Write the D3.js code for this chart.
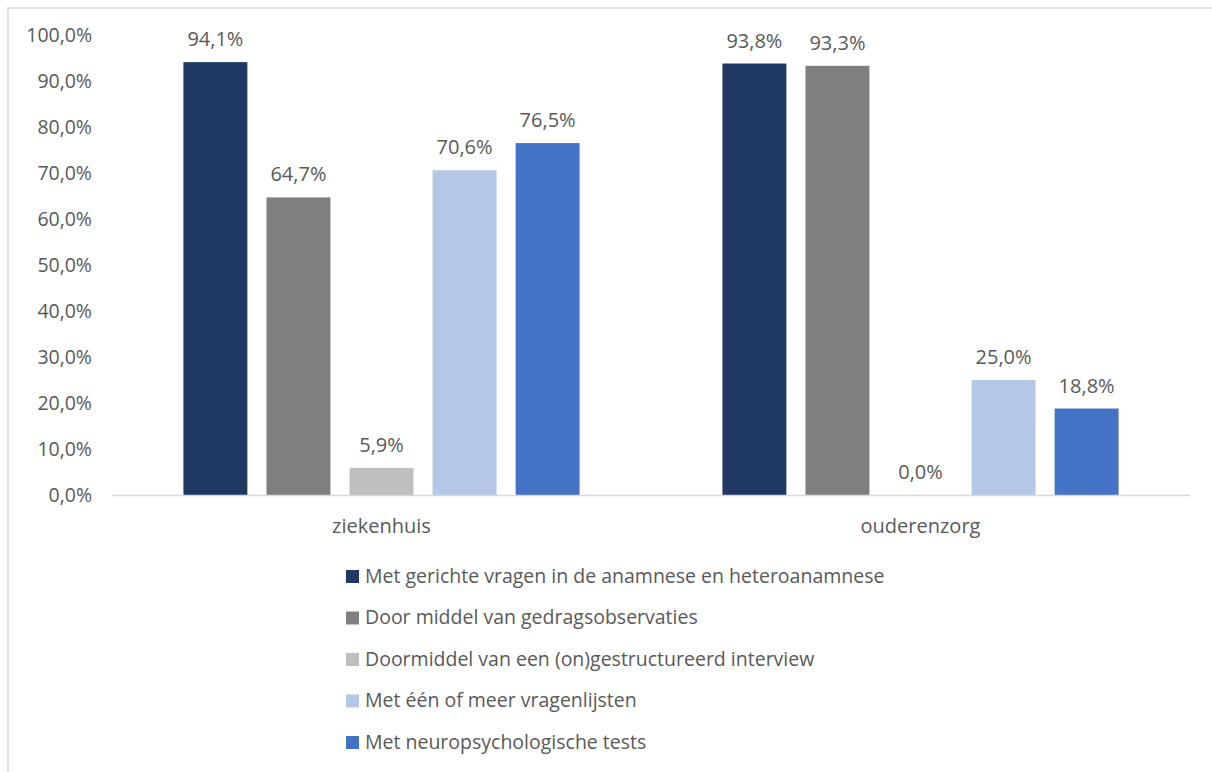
<!DOCTYPE html>
<html lang="nl">
<head>
    <meta charset="UTF-8">
    <title>Methoden per setting</title>
    <style>
        body, html {
            margin: 0;
            padding: 0;
            background: #ffffff;
            overflow: hidden;
        }
        svg {
            font-family: "Open Sans", Lato, sans-serif;
        }
        .tick-label, .cat-label, .value-label, .legend-label {
            fill: #595959;
        }
    </style>
</head>
<body>
    <div id="chart"></div>

    <script src="https://d3js.org/d3.v7.min.js"></script>
    <script>
        // data
        const categories = ['ziekenhuis', 'ouderenzorg'];
        const seriesNames = [
            'Met gerichte vragen in de anamnese en heteroanamnese',
            'Door middel van gedragsobservaties',
            'Doormiddel van een (on)gestructureerd interview',
            'Met één of meer vragenlijsten',
            'Met neuropsychologische tests'
        ];
        const ziekenhuisValues = [94.1, 64.7, 5.9, 70.6, 76.5];
        const ouderenzorgValues = [93.8, 93.3, 0.0, 25.0, 18.8];
        const yTicks = [0, 10, 20, 30, 40, 50, 60, 70, 80, 90, 100];
        const seriesColors = ['#1f3864', '#7f7f7f', '#bfbfbf', '#b4c7e7', '#4472c4'];

        const valuesByCategory = { ziekenhuis: ziekenhuisValues, ouderenzorg: ouderenzorgValues };

        const width = 1212, height = 772;
        const plot = { left: 112, right: 1190, top: 35, bottom: 495 };

        const svg = d3.select('#chart').append('svg')
            .attr('width', width)
            .attr('height', height);

        // outer frame of the chart area (only top and left edges visible)
        svg.append('rect')
            .attr('x', 8).attr('y', 8)
            .attr('width', width + 20).attr('height', height + 20)
            .attr('fill', 'none')
            .attr('stroke', '#d9d9d9')
            .attr('stroke-width', 1.5);

        const x0 = d3.scaleBand()
            .domain(categories)
            .range([plot.left, plot.right])
            .padding(0);

        const x1 = d3.scaleBand()
            .domain(d3.range(seriesNames.length))
            .range([0, x0.bandwidth()])
            .paddingInner(0.23)
            .paddingOuter(0.86);

        const y = d3.scaleLinear()
            .domain([0, 100])
            .range([plot.bottom, plot.top]);

        const fmt = v => v.toFixed(1).replace('.', ',') + '%';

        // y tick labels
        svg.append('g')
            .selectAll('text')
            .data(yTicks)
            .enter().append('text')
            .attr('class', 'tick-label')
            .attr('x', 92)
            .attr('y', d => y(d))
            .attr('dy', '0.35em')
            .attr('text-anchor', 'end')
            .style('font-size', '19.5px')
            .text(d => fmt(d));

        // bars
        const groups = svg.append('g')
            .selectAll('g')
            .data(categories)
            .enter().append('g')
            .attr('transform', d => `translate(${x0(d)},0)`);

        groups.selectAll('rect')
            .data(c => valuesByCategory[c].map((v, i) => ({ v, i })))
            .enter().append('rect')
            .attr('x', d => x1(d.i))
            .attr('width', x1.bandwidth())
            .attr('y', d => y(d.v))
            .attr('height', d => y(0) - y(d.v))
            .attr('fill', d => seriesColors[d.i]);

        groups.selectAll('text')
            .data(c => valuesByCategory[c].map((v, i) => ({ v, i })))
            .enter().append('text')
            .attr('class', 'value-label')
            .attr('x', d => x1(d.i) + x1.bandwidth() / 2)
            .attr('y', d => y(d.v) - 16)
            .attr('text-anchor', 'middle')
            .style('font-size', '20px')
            .text(d => fmt(d.v));

        // x axis line
        svg.append('line')
            .attr('x1', plot.left).attr('x2', plot.right)
            .attr('y1', y(0) + 0.5).attr('y2', y(0) + 0.5)
            .attr('stroke', '#d9d9d9')
            .attr('stroke-width', 1.5);

        // category labels
        svg.append('g')
            .selectAll('text')
            .data(categories)
            .enter().append('text')
            .attr('class', 'cat-label')
            .attr('x', d => x0(d) + x0.bandwidth() / 2)
            .attr('y', 526)
            .attr('dy', '0.35em')
            .attr('text-anchor', 'middle')
            .style('font-size', '20px')
            .text(d => d);

        // legend
        const legend = svg.append('g')
            .selectAll('g')
            .data(seriesNames)
            .enter().append('g')
            .attr('transform', (d, i) => `translate(346,${576 + i * 41.5})`);

        legend.append('rect')
            .attr('x', 0).attr('y', -6)
            .attr('width', 13).attr('height', 13)
            .attr('fill', (d, i) => seriesColors[i]);

        legend.append('text')
            .attr('class', 'legend-label')
            .attr('x', 19)
            .attr('dy', '0.35em')
            .style('font-size', '19.5px')
            .text(d => d);
    </script>
</body>
</html>
